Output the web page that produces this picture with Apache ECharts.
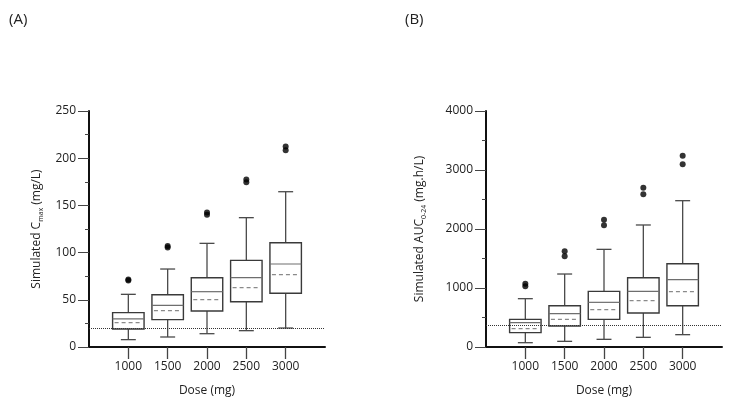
<!DOCTYPE html>
<html>
<head>
<meta charset="utf-8">
<script src="https://cdn.jsdelivr.net/npm/echarts@6/dist/echarts.min.js"></script>
<style>
html,body{margin:0;padding:0;background:#fff;}
#c{width:732px;height:409px;}
</style>
</head>
<body>
<div id="c"></div>
<script>
// ---- data ----
const doses = ['1000', '1500', '2000', '2500', '3000'];

// Panel A: Cmax (mg/L)
const cmaxMin    = [7.8, 10.6, 14.1, 17.3, 20.1];
const cmaxQ1     = [19.1, 29.0, 38.1, 48.0, 56.9];
const cmaxMedian = [29.7, 44.1, 58.6, 73.4, 87.9];
const cmaxMean   = [25.8, 38.5, 50.1, 62.9, 76.6];
const cmaxQ3     = [36.4, 55.4, 73.4, 91.8, 110.5];
const cmaxMax    = [55.8, 82.6, 109.8, 137.0, 164.5];
const cmaxOutliers = [[70.5, 71.5], [105.5, 107], [140, 142.5], [174.5, 177.5], [208.5, 212.5]];
const cmaxThreshold = 20;
const cmaxTicks = [0, 50, 100, 150, 200, 250];

// Panel B: AUC0-24 (mg.h/L)
const aucMin    = [73, 96, 130, 164, 209];
const aucQ1     = [243, 356, 469, 576, 700];
const aucMedian = [412, 565, 757, 943, 1141];
const aucMean   = [311, 469, 633, 785, 938];
const aucQ3     = [469, 700, 943, 1175, 1412];
const aucMax    = [819, 1237, 1655, 2068, 2480];
const aucOutliers = [[1028, 1073], [1537, 1621], [2062, 2158], [2588, 2700], [3096, 3243]];
const aucThreshold = 365;
const aucTicks = [0, 1000, 2000, 3000, 4000];

// ---- build ----
const axisCats = [''].concat(doses, ['']);
const FONT = '"Open Sans", "Noto Sans", sans-serif';

function boxData(mn, q1, med, mean, q3, mx) {
  return doses.map((d, i) => [i + 1, mn[i], q1[i], med[i], mean[i], q3[i], mx[i]]);
}
function outlierData(outs) {
  const r = [];
  outs.forEach((arr, i) => arr.forEach(v => r.push([i + 1, v])));
  return r;
}

function renderBox(params, api) {
  const cat = api.value(0);
  const x = api.coord([cat, 0])[0];
  const band = api.size([1, 0])[0];
  const hw = band * 0.4;
  const cw = band * 0.19;
  const y = k => api.coord([cat, api.value(k)])[1];
  const yMin = y(1), yQ1 = y(2), yMed = y(3), yMean = y(4), yQ3 = y(5), yMax = y(6);
  const wStyle = { stroke: '#4a4a4a', lineWidth: 1.3 };
  return {
    type: 'group',
    children: [
      { type: 'line', shape: { x1: x, y1: yQ3, x2: x, y2: yMax }, style: wStyle },
      { type: 'line', shape: { x1: x - cw, y1: yMax, x2: x + cw, y2: yMax }, style: wStyle },
      { type: 'line', shape: { x1: x, y1: yQ1, x2: x, y2: yMin }, style: wStyle },
      { type: 'line', shape: { x1: x - cw, y1: yMin, x2: x + cw, y2: yMin }, style: wStyle },
      { type: 'rect', shape: { x: x - hw, y: yQ3, width: hw * 2, height: yQ1 - yQ3 },
        style: { fill: 'none', stroke: '#3a3a3a', lineWidth: 1.4 } },
      { type: 'line', shape: { x1: x - hw, y1: yMed, x2: x + hw, y2: yMed },
        style: { stroke: '#6e6e6e', lineWidth: 1.2 } },
      { type: 'line', shape: { x1: x - hw + 2, y1: yMean, x2: x + hw - 2, y2: yMean },
        style: { stroke: '#8a8a8a', lineWidth: 1.2, lineDash: [4, 3] } }
    ]
  };
}

function xAxisCfg(gi) {
  return {
    type: 'category', gridIndex: gi, data: axisCats, boundaryGap: false,
    name: 'Dose (mg)', nameLocation: 'middle', nameGap: 38,
    nameTextStyle: { fontFamily: FONT, fontSize: 12, color: '#222' },
    axisLine: { lineStyle: { color: '#111', width: 2 } },
    axisTick: { show: true, length: 12, interval: (i) => i > 0 && i < axisCats.length - 1,
      lineStyle: { color: '#444', width: 1.3 } },
    axisLabel: { interval: 0, margin: 14, fontFamily: FONT, fontSize: 12, color: '#222' },
    splitLine: { show: false }
  };
}

function yAxisCfg(gi, ticks, nameRich, nameGap) {
  const iv = ticks[1] - ticks[0];
  return {
    type: 'value', gridIndex: gi, min: ticks[0], max: ticks[ticks.length - 1], interval: iv,
    name: nameRich, nameLocation: 'middle', nameGap: nameGap,
    nameTextStyle: {
      fontFamily: FONT, fontSize: 12, color: '#222',
      rich: {
        a: { fontFamily: FONT, fontSize: 12, color: '#222', lineHeight: 14 },
        s: { fontFamily: FONT, fontSize: 7, color: '#222', lineHeight: 14, verticalAlign: 'bottom' }
      }
    },
    axisLine: { show: true, lineStyle: { color: '#111', width: 2 } },
    axisTick: { show: true, length: 11, lineStyle: { color: '#444', width: 1 } },
    minorTick: { show: true, splitNumber: 2, length: 4, lineStyle: { color: '#444', width: 1 } },
    axisLabel: { margin: 13, fontFamily: FONT, fontSize: 12, color: '#222', formatter: (v) => String(v) },
    splitLine: { show: false }
  };
}

function markLineCfg(v) {
  return {
    silent: true, symbol: 'none', label: { show: false },
    lineStyle: { color: '#333', type: 'dotted', width: 1 },
    data: [{ yAxis: v }]
  };
}

const chart = echarts.init(document.getElementById('c'), null, { renderer: 'canvas' });
chart.setOption({
  animation: false,
  backgroundColor: '#fff',
  title: [
    { text: '(A)', left: 4, top: 7, textStyle: { fontFamily: FONT, fontSize: 15, fontWeight: 'normal', color: '#222' } },
    { text: '(B)', left: 400, top: 7, textStyle: { fontFamily: FONT, fontSize: 15, fontWeight: 'normal', color: '#222' } }
  ],
  grid: [
    { left: 89, top: 111, width: 236, height: 236 },
    { left: 486, top: 111, width: 236, height: 236 }
  ],
  xAxis: [xAxisCfg(0), xAxisCfg(1)],
  yAxis: [
    yAxisCfg(0, cmaxTicks, '{a|Simulated C}{s|max}{a| (mg/L)}', 45),
    yAxisCfg(1, aucTicks, '{a|Simulated AUC}{s|0-24}{a| (mg.h/L)}', 59)
  ],
  series: [
    { type: 'custom', xAxisIndex: 0, yAxisIndex: 0, renderItem: renderBox,
      encode: { x: 0, y: [1, 2, 3, 4, 5, 6] },
      data: boxData(cmaxMin, cmaxQ1, cmaxMedian, cmaxMean, cmaxQ3, cmaxMax),
      markLine: markLineCfg(cmaxThreshold), z: 2 },
    { type: 'scatter', xAxisIndex: 0, yAxisIndex: 0, symbolSize: 6,
      itemStyle: { color: '#000' }, data: outlierData(cmaxOutliers), z: 3 },
    { type: 'custom', xAxisIndex: 1, yAxisIndex: 1, renderItem: renderBox,
      encode: { x: 0, y: [1, 2, 3, 4, 5, 6] },
      data: boxData(aucMin, aucQ1, aucMedian, aucMean, aucQ3, aucMax),
      markLine: markLineCfg(aucThreshold), z: 2 },
    { type: 'scatter', xAxisIndex: 1, yAxisIndex: 1, symbolSize: 6,
      itemStyle: { color: '#000' }, data: outlierData(aucOutliers), z: 3 }
  ]
});
</script>
</body>
</html>
